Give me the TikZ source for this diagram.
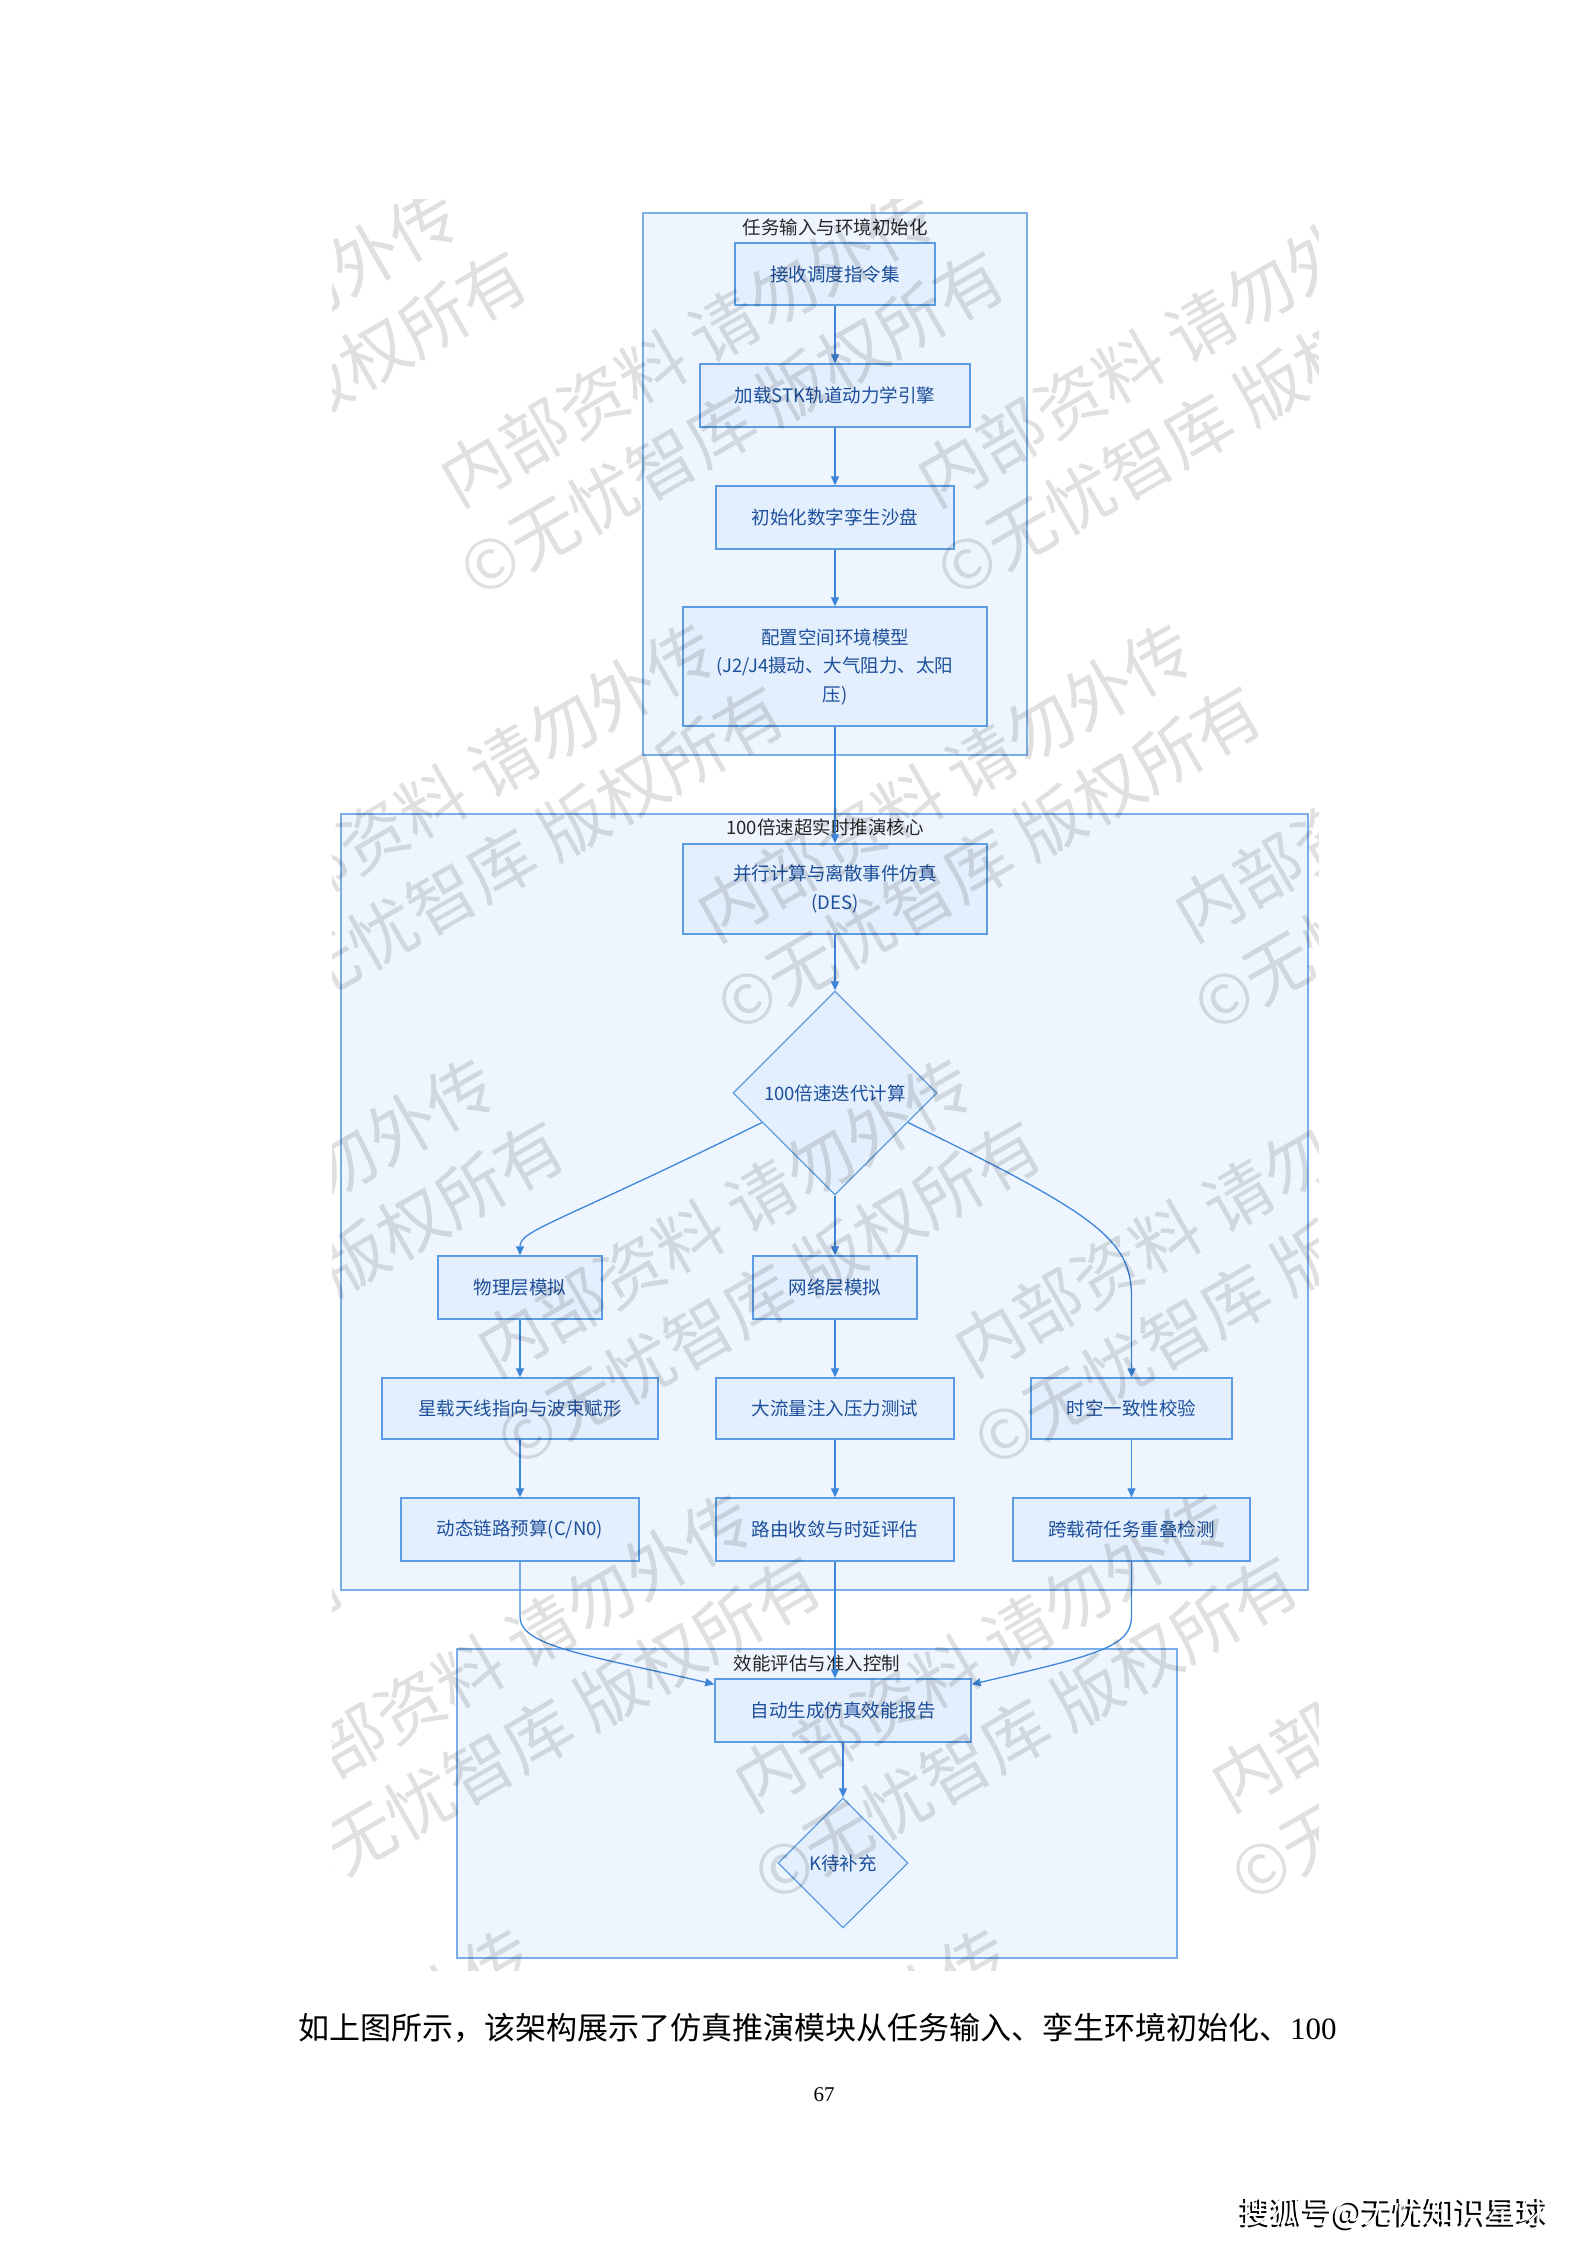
\documentclass[tikz,border=0pt]{standalone}
\usepackage{fontspec}
\setmainfont{Liberation Serif}
\newfontfamily\cjk{Noto Sans CJK SC}
\usetikzlibrary{arrows.meta,shapes.geometric,calc}
\definecolor{GroupFill}{HTML}{EEF5FE}
\definecolor{GroupLine}{HTML}{7AAEE8}
\definecolor{BoxFill}{HTML}{E3EFFC}
\definecolor{BoxLine}{HTML}{5C9CE2}
\definecolor{BoxText}{HTML}{1D4F9C}
\definecolor{FlowBlue}{HTML}{3D86DA}

\begin{document}
\begin{tikzpicture}[x=1pt,y=-1pt,>={Triangle[length=9pt,width=8pt]},
    group/.style={draw=GroupLine,fill=GroupFill,line width=1.6pt},
    grouptitle/.style={font=\cjk\fontsize{18.5}{22}\selectfont,text=black!85,inner sep=0pt},
    proc/.style={draw=BoxLine,fill=BoxFill,line width=1.4pt,text=BoxText,align=center,
      font=\cjk\fontsize{18.5}{28.5}\selectfont,inner sep=2pt,minimum height=63pt},
    choice/.style={diamond,aspect=1,draw=BoxLine,fill=BoxFill,line width=1.2pt,text=BoxText,
      font=\cjk\fontsize{18.5}{22}\selectfont,inner sep=0pt},
    flow/.style={->,draw=FlowBlue,line width=1.3pt},
    wmark/.style={font=\cjk\fontsize{68}{89}\selectfont,text=black,text opacity=0.12,
      align=center,rotate=30,inner sep=0pt}]
  \useasboundingbox[fill=white] (0,0) rectangle (1587,2245);

  % groups
  \draw[group] (643,213) rectangle (1027,755);
  \draw[group] (341,814) rectangle (1308,1590);
  \draw[group] (457,1649) rectangle (1177,1958);
  \node[grouptitle] (t1) at (835,227) {任务输入与环境初始化};
  \node[grouptitle] (t2) at (825,827) {100倍速超实时推演核心};
  \node[grouptitle] (t3) at (817,1663) {效能评估与准入控制};

  % input and init
  \node[proc,minimum width=200pt,minimum height=62pt] (recv) at (835,274) {接收调度指令集};
  \node[proc,minimum width=270pt] (stk) at (835,395.5) {加载STK轨道动力学引擎};
  \node[proc,minimum width=238pt] (sand) at (835,517.5) {初始化数字孪生沙盘};
  \node[proc,minimum width=304pt,minimum height=119pt] (env) at (835,666.5)
    {配置空间环境模型\\(J2/J4摄动、大气阻力、太阳\\压)};

  % core
  \node[proc,minimum width=304pt,minimum height=90pt] (des) at (835,889) {并行计算与离散事件仿真\\(DES)};
  \node[choice,minimum size=204pt] (iter) at (835,1093) {100倍速迭代计算};
  \node[proc,minimum width=164pt] (phys) at (520,1287.5) {物理层模拟};
  \node[proc,minimum width=164pt] (net) at (835,1287.5) {网络层模拟};
  \node[proc,minimum width=276pt,minimum height=61pt] (beam) at (520,1408.5) {星载天线指向与波束赋形};
  \node[proc,minimum width=238pt,minimum height=61pt] (load) at (835,1408.5) {大流量注入压力测试};
  \node[proc,minimum width=201pt,minimum height=61pt] (sync) at (1131.5,1408.5) {时空一致性校验};
  \node[proc,minimum width=238pt] (link) at (520,1529.5) {动态链路预算(C/N0)};
  \node[proc,minimum width=238pt] (route) at (835,1529.5) {路由收敛与时延评估};
  \node[proc,minimum width=237pt] (overlap) at (1131.5,1529.5) {跨载荷任务重叠检测};

  % evaluation
  \node[proc,minimum width=256pt] (report) at (843,1710.5) {自动生成仿真效能报告};
  \node[choice,minimum size=130pt] (tbd) at (843,1863) {K待补充};

  % connectors
  \draw[flow] (recv) -- (stk);
  \draw[flow] (stk) -- (sand);
  \draw[flow] (sand) -- (env);
  \draw[flow] (env) -- (des);
  \draw[flow] (des) -- (iter);
  \draw[flow] (iter.202) .. controls (554,1225) and (520,1230) .. (phys.north);
  \draw[flow] (iter) -- (net);
  \draw[flow] (iter.-22) .. controls (1098,1215) and (1131.5,1240) .. ($(sync.north)+(0,-80)$) -- (sync.north);
  \draw[flow] (phys) -- (beam);
  \draw[flow] (beam) -- (link);
  \draw[flow] (net) -- (load);
  \draw[flow] (load) -- (route);
  \draw[flow] (sync) -- (overlap);
  \draw[flow] (link.south) -- ++(0,55) .. controls +(0,30) and +(-125,-29) .. ($(report.north west)+(0,6)$);
  \draw[flow] (route.south) -- (route.south |- report.north);
  \draw[flow] (overlap.south) -- ++(0,55) .. controls +(0,30) and +(125,-29) .. ($(report.north east)+(0,6)$);
  \draw[flow] (report) -- (tbd);

  % watermark
  \begin{scope}
    \clip (332,200) rectangle (1318,1970);
    \foreach \j in {-1,...,4}{
      \foreach \i in {-2,...,3}{
        \node[wmark] (wm-\i-\j) at (710+477*\i-220*\j,385+435*\j) {内部资料 请勿外传\\©无忧智库 版权所有};
      }
    }
  \end{scope}

  % page text
  \node[anchor=west,inner sep=0pt,font=\cjk\fontsize{31}{36}\selectfont] (caption) at (298,2028)
    {如上图所示，该架构展示了仿真推演模块从任务输入、孪生环境初始化、{\rmfamily 100}};
  \node[font=\fontsize{21}{24}\selectfont] (pageno) at (824,2095) {67};
  \node[font=\cjk\fontsize{31}{36}\selectfont,text=black] (sohushade) at (1392.5,2215.5) {搜狐号@无忧知识星球};
  \node[font=\cjk\fontsize{31}{36}\selectfont,text=white] (sohu) at (1395,2213) {搜狐号@无忧知识星球};
\end{tikzpicture}
\end{document}
